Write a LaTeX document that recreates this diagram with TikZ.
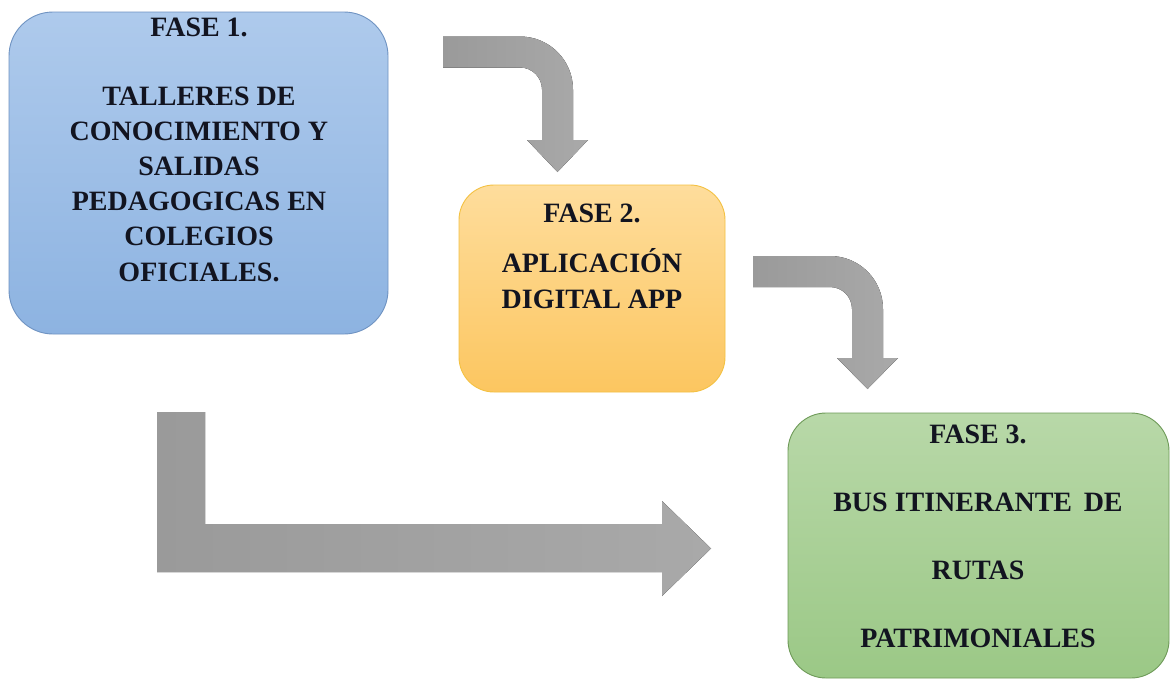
\documentclass[tikz,border=0pt]{standalone}
\usepackage{fontspec}
\setmainfont{Liberation Serif}
\definecolor{blueTop}{HTML}{AECAEC}
\definecolor{blueBot}{HTML}{8DB3E1}
\definecolor{blueEdge}{HTML}{6F93C2}
\definecolor{oraTop}{HTML}{FEDD9C}
\definecolor{oraBot}{HTML}{FCC660}
\definecolor{oraEdge}{HTML}{F4C142}
\definecolor{grnTop}{HTML}{B8D8A8}
\definecolor{grnBot}{HTML}{9BC886}
\definecolor{grnEdge}{HTML}{6E9A58}
\definecolor{arrL}{HTML}{9A9A9A}
\definecolor{arrR}{HTML}{A9A9A9}
\definecolor{ink}{HTML}{121420}
\begin{document}
\begin{tikzpicture}[x=1pt,y=-1pt,
  phasebox/.style={draw, line width=0.9pt, inner sep=0pt, outer sep=0pt},
  txt/.style={font=\bfseries\fontsize{28}{34}\selectfont, anchor=base, inner sep=0pt, text=ink},
  garrow/.style={left color=arrL, right color=arrR, draw=none}]
\useasboundingbox (0,0) rectangle (1170,680);
\fill[white] (0,0) rectangle (1170,680);

% boxes
\node[phasebox, draw=blueEdge, top color=blueTop, bottom color=blueBot,
      minimum width=379pt, minimum height=322pt, rounded corners=44pt] (f1) at (198.5,173) {};
\node[phasebox, draw=oraEdge, top color=oraTop, bottom color=oraBot,
      minimum width=266pt, minimum height=207pt, rounded corners=35pt] (f2) at (592,288.5) {};
\node[phasebox, draw=grnEdge, top color=grnTop, bottom color=grnBot,
      minimum width=381pt, minimum height=265pt, rounded corners=38pt] (f3) at (978.5,545.5) {};

% texts box 1
\node[txt] (t1a) at (199,36) {FASE 1.};
\node[txt] (t1b) at (199,105) {TALLERES DE};
\node[txt] (t1c) at (199,140) {CONOCIMIENTO Y};
\node[txt] (t1d) at (199,175) {SALIDAS};
\node[txt] (t1e) at (199,210) {PEDAGOGICAS EN};
\node[txt] (t1f) at (199,245) {COLEGIOS};
\node[txt] (t1g) at (199,281) {OFICIALES.};

% texts box 2
\node[txt] (t2a) at (592,222) {FASE 2.};
\node[txt] (t2b) at (592,272) {APLICACIÓN};
\node[txt] (t2c) at (592,308) {DIGITAL APP};

% texts box 3
\node[txt] (t3a) at (978,443) {FASE 3.};
\node[txt] (t3b) at (978,511) {BUS ITINERANTE\, DE};
\node[txt] (t3c) at (978,579) {RUTAS};
\node[txt] (t3d) at (978,647) {PATRIMONIALES};

% arrow 1 (fase 1 -> fase 2)
\fill[garrow] (443,36.5) -- (520,36.5)
  .. controls (549.3,36.5) and (573,60.2) .. (573,89.5)
  -- (573,140) -- (588,140) -- (557.5,172) -- (527,140) -- (542,140)
  -- (542,89.5) .. controls (542,77.35) and (532.15,67.5) .. (520,67.5)
  -- (443,67.5) -- cycle;

% arrow 2 (fase 2 -> fase 3)
\fill[garrow] (753,256) -- (830,256)
  .. controls (859.3,256) and (883,279.7) .. (883,309)
  -- (883,358) -- (898,358) -- (867.5,389) -- (837,358) -- (852,358)
  -- (852,309) .. controls (852,296.85) and (842.15,287) .. (830,287)
  -- (753,287) -- cycle;

% arrow 3 (fase 1 -> fase 3)
\fill[garrow] (157,412) -- (205,412) -- (205,524) -- (662,524) -- (662,501)
  -- (711,548.5) -- (662,596) -- (662,572) -- (157,572) -- cycle;
\end{tikzpicture}
\end{document}
